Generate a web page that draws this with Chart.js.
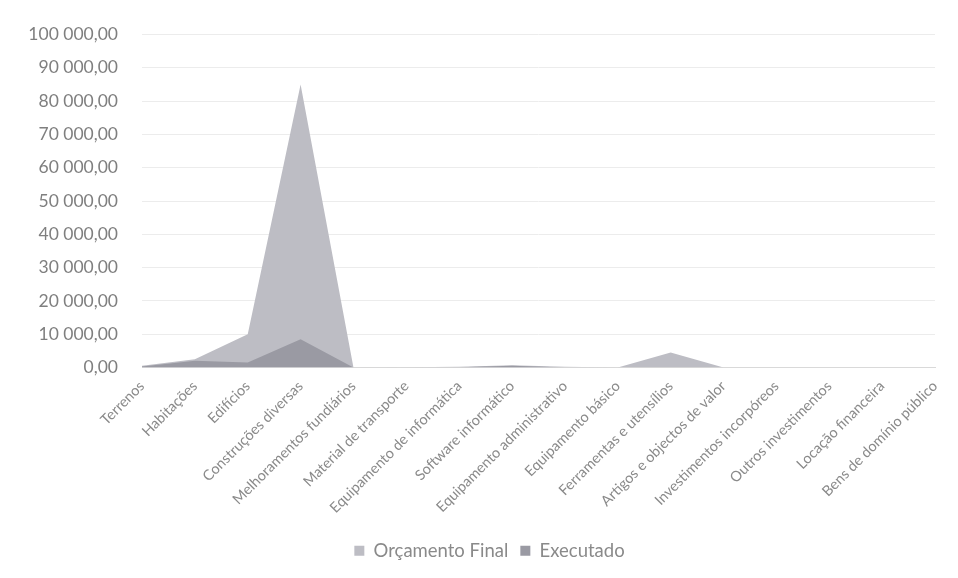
<!DOCTYPE html>
<html>
<head>
<meta charset="utf-8">
<script src="https://cdn.jsdelivr.net/npm/chart.js@4"></script>
<style>
html,body{margin:0;padding:0;background:#fff;}
#wrap{width:958px;height:578px;position:relative;}
</style>
</head>
<body>
<div id="wrap"><canvas id="c" width="958" height="578"></canvas></div>
<script>
const categories = ["Terrenos","Habitações","Edifícios","Construções diversas","Melhoramentos fundiários","Material de transporte","Equipamento de informática","Software informático","Equipamento administrativo","Equipamento básico","Ferramentas e utensílios","Artigos e objectos de valor","Investimentos incorpóreos","Outros investimentos","Locação financeira","Bens de domínio público"];
const orcamentoFinal = [500, 2500, 10000, 85000, 0, 100, 200, 700, 250, 0, 4500, 0, 0, 0, 0, 0];
const executado = [300, 2000, 1500, 8500, 0, 0, 100, 500, 0, 0, 0, 0, 0, 0, 0, 0];
const seriesNames = ["Orçamento Final","Executado"];

function fmt(v){
  const parts = v.toFixed(2).split('.');
  const intp = parts[0].replace(/\B(?=(\d{3})+(?!\d))/g,' ');
  return intp + ',' + parts[1];
}

const shiftLegend = {
  id: 'shiftLegend',
  afterLayout(chart){
    if (chart.legend){ chart.legend.left += 22; chart.legend.right += 22; }
  }
};

new Chart(document.getElementById('c'), {
  type: 'line',
  data: {
    labels: categories,
    datasets: [
      {label: seriesNames[0], data: orcamentoFinal, fill: 'origin', backgroundColor: '#bdbdc4', borderWidth: 0, pointRadius: 0, tension: 0, order: 2},
      {label: seriesNames[1], data: executado, fill: 'origin', backgroundColor: '#9a9aa3', borderWidth: 0, pointRadius: 0, tension: 0, order: 1}
    ]
  },
  plugins: [shiftLegend],
  options: {
    responsive: false,
    animation: false,
    layout: {padding: {top: 34, right: 23, bottom: 8, left: 0}},
    plugins: {
      legend: {
        position: 'bottom',
        labels: {
          font: {family: 'Lato', size: 18.5},
          color: '#8a8a8a',
          boxWidth: 10, boxHeight: 10,
          padding: 12,
          sort: (a,b) => a.datasetIndex - b.datasetIndex,
          generateLabels: (chart) => chart.data.datasets.map((d,i) => ({text: d.label, fillStyle: d.backgroundColor, strokeStyle: d.backgroundColor, lineWidth: 0, datasetIndex: i, fontColor: '#8a8a8a'}))
        }
      },
      tooltip: {enabled: false}
    },
    scales: {
      x: {
        offset: false,
        grid: {display: false},
        border: {display: true, color: '#d9d9d9'},
        ticks: {font: {family: 'Lato', size: 14.5}, color: '#8a8a8a', maxRotation: 45, minRotation: 45, autoSkip: false, padding: 2},
        afterFit: (s) => { s.height = 162; }
      },
      y: {
        min: 0, max: 100000,
        grid: {color: '#ececec', drawTicks: false},
        border: {display: false},
        ticks: {stepSize: 10000, font: {family: 'Lato', size: 17.5}, color: '#7f7f7f', padding: 24, callback: (v) => fmt(v)},
        afterFit: (s) => { s.width = 142; }
      }
    }
  }
});
</script>
</body>
</html>
